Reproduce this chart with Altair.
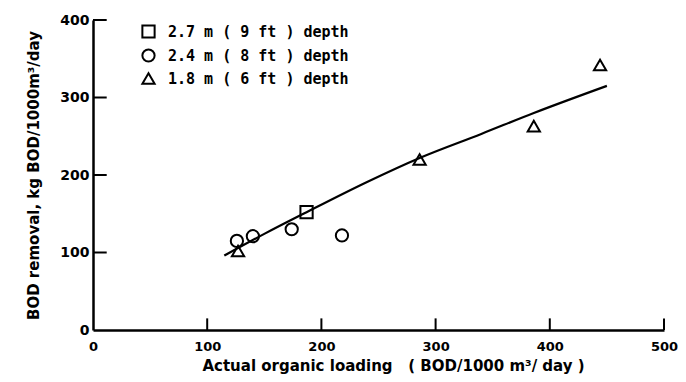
import altair as alt
import pandas as pd

# measured points
series = ["2.7 m ( 9 ft ) depth", "2.4 m ( 8 ft ) depth", "1.8 m ( 6 ft ) depth"]
sq_x = [187]
sq_y = [152]
ci_x = [126, 140, 174, 218]
ci_y = [115, 121, 130, 122]
tr_x = [127, 286, 386, 444]
tr_y = [102, 220, 263, 342]

# fitted curve
curve_x = [115, 150, 187, 240, 286, 340, 386, 450]
curve_y = [96, 124, 152, 191, 222, 253, 280, 315]

x_ticks = [100, 200, 300, 400, 500]
y_ticks = [100, 200, 300, 400]

rows = []
for x, y in zip(sq_x, sq_y):
    rows.append({"x": x, "y": y, "s": series[0]})
for x, y in zip(ci_x, ci_y):
    rows.append({"x": x, "y": y, "s": series[1]})
for x, y in zip(tr_x, tr_y):
    rows.append({"x": x, "y": y, "s": series[2]})
pts = pd.DataFrame(rows)
curve = pd.DataFrame({"x": curve_x, "y": curve_y})
xt = pd.DataFrame({"x": x_ticks, "y0": [0] * len(x_ticks), "y1": [15] * len(x_ticks)})
yt = pd.DataFrame({"y": y_ticks, "x0": [0] * len(y_ticks), "x1": [12] * len(y_ticks)})

FONT = "DejaVu Sans"
xscale = alt.Scale(domain=[0, 500], nice=False, zero=False)
yscale = alt.Scale(domain=[0, 400], nice=False, zero=False)

xaxis = alt.Axis(values=[0, 100, 200, 300, 400, 500], ticks=False, grid=False,
                 domainColor="black", domainWidth=2.5,
                 labelFont=FONT, labelFontSize=13, labelFontWeight="bold", labelColor="black",
                 labelPadding=10, labelFlush=False,
                 title="Actual organic loading\u00a0\u00a0\u00a0( BOD/1000 m³/ day )",
                 titleFont=FONT, titleFontSize=15, titleFontWeight="bold", titleColor="black",
                 titlePadding=5, titleX=300)
yaxis = alt.Axis(values=[0, 100, 200, 300, 400], ticks=False, grid=False,
                 domainColor="black", domainWidth=2.5,
                 labelFont=FONT, labelFontSize=14, labelFontWeight="bold", labelColor="black",
                 labelPadding=4, labelFlush=False,
                 title="BOD removal, kg BOD/1000m³/day",
                 titleFont=FONT, titleFontSize=15, titleFontWeight="bold", titleColor="black",
                 titlePadding=18)

line = alt.Chart(curve).mark_line(color="black", strokeWidth=2.2, interpolate="monotone").encode(
    x=alt.X("x:Q", scale=xscale, axis=xaxis),
    y=alt.Y("y:Q", scale=yscale, axis=yaxis),
)

points = alt.Chart(pts).mark_point(filled=False, color="black", strokeWidth=2, size=150, opacity=1).encode(
    x=alt.X("x:Q", scale=xscale),
    y=alt.Y("y:Q", scale=yscale),
    shape=alt.Shape("s:N",
                    scale=alt.Scale(domain=series, range=["square", "circle", "triangle-up"]),
                    legend=alt.Legend(title=None, orient="none", legendX=48, legendY=4,
                                      labelFont="DejaVu Sans Mono", labelFontSize=15,
                                      labelFontWeight="bold", labelLimit=400,
                                      labelColor="black", symbolSize=150, symbolStrokeWidth=2,
                                      symbolStrokeColor="black", symbolFillColor="white",
                                      rowPadding=3, labelOffset=12)),
)

xtick = alt.Chart(xt).mark_rule(color="black", strokeWidth=2).encode(
    x=alt.X("x:Q", scale=xscale), y=alt.Y("y0:Q", scale=yscale), y2="y1:Q")
ytick = alt.Chart(yt).mark_rule(color="black", strokeWidth=2).encode(
    y=alt.Y("y:Q", scale=yscale), x=alt.X("x0:Q", scale=xscale), x2="x1:Q")

chart = alt.layer(line, xtick, ytick, points).properties(
    width=571, height=310,
    autosize=alt.AutoSizeParams(type="none"),
    padding={"left": 85, "top": 12, "right": 14, "bottom": 52},
    background="white",
).configure_view(stroke=None)

chart.save("out.html", embed_options={"renderer": "svg", "actions": False})
